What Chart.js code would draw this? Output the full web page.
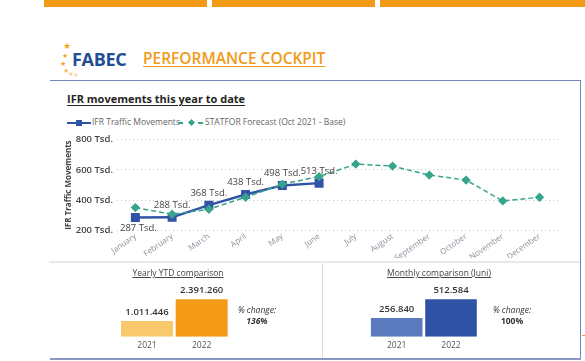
<!DOCTYPE html>
<html>
<head>
<meta charset="utf-8">
<script src="https://cdn.jsdelivr.net/npm/chart.js@4.4.0/dist/chart.umd.min.js"></script>
<style>
  body { margin: 0; width: 585px; height: 361px; position: relative; overflow: hidden; background: #fff; font-family: "Open Sans", sans-serif; }
  .abs { position: absolute; }
  .topbar { position: absolute; top: 0; height: 7px; background: #F39A17; }
  .star { position: absolute; color: #F5A623; font-size: 7px; line-height: 7px; }
  canvas { position: absolute; }
</style>
</head>
<body>
<div class="topbar" style="left:44px;width:163px"></div>
<div class="topbar" style="left:212px;width:163px"></div>
<div class="topbar" style="left:380px;width:205px"></div>

<!-- logo -->
<span class="star" style="left:63px;top:42px;font-size:9px">★</span>
<span class="star" style="left:62px;top:52px">★</span>
<span class="star" style="left:60px;top:60px">★</span>
<span class="star" style="left:63px;top:67px;color:#F7B955">★</span>
<span class="star" style="left:68px;top:71px;color:#F9C98A;font-size:6px">★</span>
<span class="star" style="left:73px;top:72px;color:#FAD4A6;font-size:6px">★</span>
<div class="abs" style="left:72px;top:47px;font-size:18px;font-weight:700;color:#1F4E93;letter-spacing:-0.3px">FABEC</div>
<div class="abs" style="left:143px;top:47px;font-size:15.5px;font-weight:600;color:#F39A17;text-decoration:underline;text-underline-offset:2px">PERFORMANCE COCKPIT</div>

<!-- frame -->
<div class="abs" style="left:50px;top:80px;width:531px;height:1px;background:#7384BA"></div>
<div class="abs" style="left:580px;top:80px;width:1px;height:279px;background:#7384BA"></div>
<div class="abs" style="left:50px;top:358px;width:531px;height:2px;background:#8A98C4"></div>
<div class="abs" style="left:49px;top:261px;width:531px;height:2px;background:#E9E9E9"></div>
<div class="abs" style="left:322px;top:263px;width:1px;height:95px;background:#DCDCDC"></div>
<div class="abs" style="left:582px;top:335px;width:3px;height:1px;background:#F39A17"></div>

<div class="abs" style="left:67px;top:91px;font-size:11px;font-weight:700;color:#252423;text-decoration:underline;text-underline-offset:2px">IFR movements this year to date</div>

<!-- legend -->
<div class="abs" style="left:67px;top:122px;width:24px;height:2px;background:#3153A6"></div>
<div class="abs" style="left:76px;top:120px;width:6px;height:6px;background:#3153A6"></div>
<div class="abs" style="left:92px;top:116px;font-size:8.5px;color:#666">IFR Traffic Movements</div>
<div class="abs" style="left:178px;top:122px;width:5px;height:1.5px;background:#36A58C"></div>
<div class="abs" style="left:198px;top:122px;width:5px;height:1.5px;background:#36A58C"></div>
<div class="abs" style="left:188.5px;top:119.5px;width:5px;height:5px;background:#36A58C;transform:rotate(45deg)"></div>
<div class="abs" style="left:205px;top:116px;font-size:8.5px;color:#666">STATFOR Forecast (Oct 2021 - Base)</div>

<canvas id="lineChart" width="505" height="142" style="left:60px;top:128px"></canvas>

<!-- bottom panels -->
<div class="abs" style="left:100px;top:267px;width:156px;text-align:center;font-size:8.5px;color:#444;text-decoration:underline">Yearly YTD comparison</div>
<canvas id="ytdChart" width="150" height="80" style="left:100px;top:278px"></canvas>
<div class="abs" style="left:226px;top:304px;width:62px;text-align:center;font-size:8.5px;color:#333;font-style:italic;line-height:11px">% change:<br><b id="ytdPct"></b></div>

<div class="abs" style="left:360px;top:267px;width:158px;text-align:center;font-size:8.5px;color:#444;text-decoration:underline">Monthly comparison (Juni)</div>
<canvas id="monthChart" width="150" height="80" style="left:350px;top:278px"></canvas>
<div class="abs" style="left:481px;top:304px;width:62px;text-align:center;font-size:8.5px;color:#333;line-height:11px"><i>% change:</i><br><b id="monthPct"></b></div>

<script>
// ── Data ────────────────────────────────────────────────
const months = ["January", "February", "March", "April", "May", "June",
                "July", "August", "September", "October", "November", "December"];
const ifrValues      = [287, 288, 368, 438, 498, 513, null, null, null, null, null, null]; // Tsd.
const forecastValues = [352, 308, 341, 420, 506, 556, 638, 625, 566, 533, 396, 420];      // Tsd.
const yTicks = [200, 400, 600, 800];

const years         = ["2021", "2022"];
const ytdValues     = [1011446, 2391260];
const monthlyValues = [256840, 512584];

const FONT = "'Open Sans', sans-serif";
const fmt = n => String(n).replace(/\B(?=(\d{3})+(?!\d))/g, ".");

// ── Labels over the IFR points ──────────────────────────
const pointLabels = {
  id: "pointLabels",
  afterDatasetsDraw(chart) {
    const meta = chart.getDatasetMeta(0);
    const ctx = chart.ctx;
    ctx.save();
    ctx.font = "9.5px " + FONT;
    ctx.fillStyle = "#444";
    ctx.textAlign = "center";
    ctx.textBaseline = "middle";
    meta.data.forEach((pt, i) => {
      const v = ifrValues[i];
      if (v == null) return;
      if (i === 0) ctx.fillText(v + " Tsd.", pt.x + 3, pt.y + 11);
      else ctx.fillText(v + " Tsd.", pt.x, pt.y - 12);
    });
    ctx.restore();
  }
};

new Chart(document.getElementById("lineChart"), {
  type: "line",
  data: {
    labels: months,
    datasets: [
      {
        label: "IFR Traffic Movements",
        data: ifrValues,
        borderColor: "#3153A6",
        backgroundColor: "#3153A6",
        borderWidth: 2.5,
        pointStyle: "rect",
        pointRadius: 4.6,
        order: 2
      },
      {
        label: "STATFOR Forecast (Oct 2021 - Base)",
        data: forecastValues,
        borderColor: "#36A58C",
        backgroundColor: "#36A58C",
        borderWidth: 1.5,
        borderDash: [5, 3],
        pointStyle: "rectRot",
        pointRadius: 3.6,
        order: 1
      }
    ]
  },
  options: {
    responsive: false,
    animation: false,
    layout: { padding: { top: 11.5, right: 4.5, left: 0, bottom: 12 } },
    plugins: { legend: { display: false }, tooltip: { enabled: false } },
    scales: {
      x: {
        offset: true,
        grid: { display: false, drawTicks: false },
        border: { display: false },
        ticks: { color: "#8a8f9a", font: { size: 8, family: FONT }, minRotation: 35, maxRotation: 35, autoSkip: false, padding: 1 },
        afterFit: s => { s.height = 27.3; }
      },
      y: {
        min: yTicks[0],
        max: yTicks[yTicks.length - 1],
        afterBuildTicks: s => { s.ticks = yTicks.map(v => ({ value: v })); },
        ticks: { color: "#444", font: { size: 9.5, family: FONT, weight: "600" }, padding: 4, callback: v => v + " Tsd." },
        grid: { color: "#c4c4c4", drawTicks: false },
        border: { display: false, dash: [1, 3] },
        title: { display: true, text: "IFR Traffic Movements", color: "#444", font: { size: 8, weight: "bold", family: FONT }, padding: { top: 4.2, bottom: 0 } },
        afterFit: s => { s.width = 57; }
      }
    }
  },
  plugins: [pointLabels]
});

// ── Comparison bars ─────────────────────────────────────
const barLabels = {
  id: "barLabels",
  afterDatasetsDraw(chart) {
    const ctx = chart.ctx;
    const vals = chart.data.datasets[0].data;
    ctx.save();
    ctx.font = "600 9.5px " + FONT;
    ctx.fillStyle = "#333";
    ctx.textAlign = "center";
    ctx.textBaseline = "middle";
    chart.getDatasetMeta(0).data.forEach((bar, i) => {
      ctx.fillText(fmt(vals[i]), bar.x, bar.y - 9);
    });
    ctx.restore();
  }
};

function barChart(id, values, colors, max, padLeft, padRight) {
  return new Chart(document.getElementById(id), {
    type: "bar",
    data: {
      labels: years,
      datasets: [{ data: values, backgroundColor: colors, barPercentage: 0.95, categoryPercentage: 1 }]
    },
    options: {
      responsive: false,
      animation: false,
      layout: { padding: { top: 7.1, left: padLeft, right: padRight, bottom: 0 } },
      plugins: { legend: { display: false }, tooltip: { enabled: false } },
      scales: {
        y: { display: false, min: 0, max: max },
        x: {
          grid: { display: false, drawTicks: false },
          border: { display: false },
          ticks: { color: "#555", font: { size: 8.5, family: FONT }, padding: 4 },
          afterFit: s => { s.height = 21.3; }
        }
      }
    },
    plugins: [barLabels]
  });
}

barChart("ytdChart", ytdValues, ["#F7C86C", "#F39A17"], 3305000, 19.65, 21);
barChart("monthChart", monthlyValues, ["#5B79BD", "#3153A6"], 708500, 19.55, 21.85);

document.getElementById("ytdPct").textContent = Math.round((ytdValues[1] / ytdValues[0] - 1) * 100) + "%";
document.getElementById("monthPct").textContent = Math.round((monthlyValues[1] / monthlyValues[0] - 1) * 100) + "%";
</script>
</body>
</html>
